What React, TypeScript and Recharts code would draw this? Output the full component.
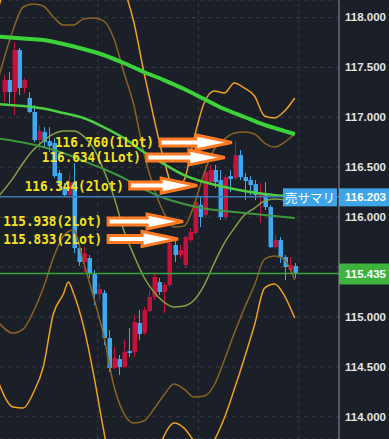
import React from 'react';
import { ComposedChart, Bar, Line, XAxis, YAxis, CartesianGrid, ReferenceLine } from 'recharts';

// candles (59 bars)
const open = [117.253, 117.373, 117.253, 117.674, 117.293, 117.193, 117.053, 116.772, 116.852, 116.762, 116.742, 116.442, 116.301, 116.221, 116.351, 115.690, 115.550, 115.590, 115.440, 115.229, 115.239, 114.788, 114.488, 114.578, 114.498, 114.658, 114.648, 114.939, 114.838, 115.059, 115.199, 115.349, 115.249, 115.319, 115.720, 115.620, 115.520, 115.770, 115.840, 116.121, 116.021, 116.351, 116.472, 116.371, 116.001, 116.411, 116.391, 116.622, 116.401, 116.371, 116.331, 116.211, 116.221, 116.101, 115.700, 115.770, 115.600, 115.470, 115.510];
const high = [117.424, 117.454, 117.754, 117.694, 117.393, 117.253, 117.123, 116.923, 116.902, 116.902, 116.792, 116.472, 116.341, 116.442, 116.542, 115.710, 115.700, 115.620, 115.470, 115.339, 115.269, 114.868, 114.698, 114.618, 114.768, 114.888, 115.019, 115.069, 115.099, 115.269, 115.440, 115.389, 115.349, 115.770, 115.770, 115.720, 115.820, 115.890, 116.191, 116.201, 116.522, 116.522, 116.522, 116.472, 116.421, 116.472, 116.762, 116.672, 116.442, 116.411, 116.371, 116.341, 116.351, 116.121, 115.820, 115.800, 115.620, 115.600, 115.540];
const low = [117.153, 117.143, 117.023, 117.223, 117.243, 117.043, 116.752, 116.672, 116.702, 116.652, 116.391, 116.271, 116.201, 116.201, 115.640, 115.510, 115.450, 115.389, 115.119, 115.169, 114.718, 114.448, 114.478, 114.418, 114.488, 114.598, 114.598, 114.768, 114.818, 115.049, 115.169, 115.219, 115.039, 115.299, 115.550, 115.590, 115.490, 115.750, 115.820, 115.900, 115.991, 116.321, 116.291, 115.971, 115.971, 116.251, 116.371, 116.371, 116.171, 116.221, 116.171, 115.941, 116.071, 115.690, 115.680, 115.540, 115.369, 115.440, 115.389];
const close = [117.373, 117.253, 117.674, 117.293, 117.373, 117.053, 116.772, 116.862, 116.752, 116.712, 116.411, 116.321, 116.221, 116.351, 115.690, 115.550, 115.640, 115.440, 115.229, 115.279, 114.788, 114.488, 114.588, 114.498, 114.648, 114.638, 114.949, 114.828, 115.069, 115.199, 115.400, 115.249, 115.319, 115.740, 115.620, 115.670, 115.800, 115.850, 116.151, 116.001, 116.452, 116.472, 116.351, 116.001, 116.401, 116.381, 116.622, 116.401, 116.361, 116.321, 116.221, 116.241, 116.101, 115.700, 115.770, 115.600, 115.500, 115.520, 115.435];

// moving averages, sampled every 4 bars
const maIdx = [-1, 4, 8, 12, 16, 20, 24, 28, 32, 36, 40, 44, 48, 52, 56, 58];
const maLong = [117.808, 117.789, 117.774, 117.734, 117.684, 117.624, 117.544, 117.454, 117.373, 117.283, 117.183, 117.083, 117.003, 116.923, 116.862, 116.832];
const maMid = [117.133, 117.113, 117.088, 117.043, 116.993, 116.902, 116.792, 116.652, 116.532, 116.421, 116.351, 116.301, 116.261, 116.231, 116.211, 116.201];
const maShort = [116.787, 116.747, 116.702, 116.642, 116.562, 116.482, 116.391, 116.281, 116.191, 116.131, 116.086, 116.061, 116.041, 116.021, 116.001, 115.991];

// bollinger bands, sampled every 2 bars
const bbIdx = [-1, 2, 4, 6, 8, 10, 12, 14, 16, 18, 20, 22, 24, 26, 28, 30, 32, 34, 36, 38, 40, 42, 44, 46, 48, 50, 52, 54, 56, 58];
const bbMid = [116.201, 116.391, 116.542, 116.672, 116.762, 116.832, 116.862, 116.862, 116.812, 116.692, 116.472, 116.211, 115.870, 115.620, 115.400, 115.249, 115.149, 115.099, 115.109, 115.169, 115.319, 115.540, 115.740, 115.890, 116.021, 116.091, 116.161, 116.181, 116.171, 116.131];
const bbUp1 = [117.373, 117.874, 118.105, 118.135, 118.115, 118.005, 117.925, 117.925, 117.985, 117.995, 117.965, 117.794, 117.454, 117.123, 116.642, 116.291, 116.041, 115.900, 115.910, 116.121, 116.442, 116.682, 116.782, 116.842, 116.852, 116.832, 116.742, 116.702, 116.752, 116.832];
const bbLow1 = [114.949, 114.838, 114.878, 115.049, 115.289, 115.590, 115.810, 115.870, 115.550, 115.199, 114.818, 114.318, 114.037, 113.937, 113.957, 114.077, 114.217, 114.327, 114.277, 114.197, 114.207, 114.318, 114.568, 114.838, 115.089, 115.319, 115.580, 115.610, 115.570, 115.369];
const bbUp2 = [118.069, 118.626, 118.876, 118.876, 118.806, 118.626, 118.476, 118.476, 118.576, 118.626, 118.676, 118.526, 118.295, 117.955, 117.454, 116.993, 116.572, 116.291, 116.371, 116.792, 117.143, 117.263, 117.243, 117.343, 117.293, 117.213, 117.013, 116.993, 117.063, 117.193];
const bbLow2Idx = [-1, 2, 4, 6, 8, 10, 12, 13, 14, 16, 18, 20, 22, 24, 26, 28, 30, 32, 34, 36, 38, 40, 42, 44, 46, 48, 50, 52, 54, 56, 58];
const bbLow2 = [114.357, 114.097, 114.087, 114.237, 114.498, 115.029, 115.229, 115.349, 115.239, 114.908, 114.428, 113.866, 113.365, 113.015, 112.965, 113.185, 113.516, 113.806, 113.937, 113.886, 113.756, 113.646, 113.766, 113.987, 114.277, 114.588, 114.919, 115.289, 115.329, 115.209, 114.989];

const yTicks = [114, 114.5, 115, 115.5, 116, 116.5, 117, 117.5, 118];
const gridX = [18.85, 38.85, 58.85];
const sellAvg = 116.203;
const lastPrice = 115.435;

const trades = [
  { label: '116.760(1Lot)', at: 116.748, from: 31.2, to: 45.5 },
  { label: '116.634(1Lot)', at: 116.598, from: 28.6, to: 44.1 },
  { label: '116.344(2lot)', at: 116.316, from: 25.2, to: 38.6 },
  { label: '115.938(2Lot)', at: 115.956, from: 20.9, to: 35.8 },
  { label: '115.833(2Lot)', at: 115.781, from: 20.9, to: 34.8 },
];

const candles = open.map((o, i) => ({ i, o, h: high[i], l: low[i], c: close[i] }));
const series = (idx: number[], vals: number[]) => idx.map((i, k) => ({ i, v: vals[k] }));

const BG = '#1b1f28';
const RED = '#c8103c';
const BLUE = '#3ca9f0';
const AXIS_FONT = "'Liberation Sans', Arial, sans-serif";

const Candle = (props: any) => {
  const { x, y, width, height, payload } = props;
  const { o, h, l, c } = payload;
  const top = Math.min(y, y + height);
  const bot = Math.max(y, y + height);
  const py = (p: number) => top + ((h - p) / (h - l || 1)) * (bot - top);
  const color = c >= o ? RED : BLUE;
  const bt = py(Math.max(o, c));
  const bb = py(Math.min(o, c));
  const cx = Math.round(x + width / 2);
  return (
    <g>
      <line x1={cx + 0.5} x2={cx + 0.5} y1={top} y2={bot} stroke={color} strokeWidth={1} />
      <rect x={cx - 1.5} y={bt} width={4.5} height={Math.max(1, bb - bt)} fill={color} />
    </g>
  );
};

// price tick; the one hidden under the last-price tag is skipped
const PriceTick = (props: any) => {
  const { x, y, payload } = props;
  if (Math.abs(payload.value - lastPrice) < 0.1) return null;
  return (
    <text x={x} y={y} dominantBaseline="central" fill="#e4e4e4" fontSize={11.5} fontWeight={700} fontFamily={AXIS_FONT}>
      {payload.value.toFixed(3)}
    </text>
  );
};

const TradeArrow = (props: any) => {
  const { x1, x2, y1, label } = props;
  const head = 36;
  const xh = x2 - head;
  const y = y1;
  const pts = [
    [x1, y - 3.5], [xh, y - 3.5], [xh, y - 7.5], [x2, y], [xh, y + 7.5], [xh, y + 3.5], [x1, y + 3.5],
  ].map((p) => p.join(',')).join(' ');
  return (
    <g>
      <text x={x1 - 105} y={y} dominantBaseline="central" textLength={99} lengthAdjust="spacingAndGlyphs"
        fill="#f4e21c" fontSize={14} fontWeight={700} fontFamily="'DejaVu Sans Mono', monospace">{label}</text>
      <polygon points={pts} fill="#ffffff" stroke="#ff7a22" strokeWidth={3} strokeLinejoin="miter" />
    </g>
  );
};

const PriceTag = (props: any) => {
  const { viewBox, value, color, h, sell } = props;
  const right = viewBox.x + viewBox.width;
  const y = viewBox.y + 0.5;
  return (
    <g>
      {sell && <rect x={right - 56} y={y - h / 2} width={54} height={h} fill={color} />}
      {sell && (
        <text x={right - 29} y={y} textAnchor="middle" dominantBaseline="central" fill="#ffffff" fontSize={12.5}
          fontFamily="'Noto Sans CJK JP', sans-serif">売サマリ</text>
      )}
      <rect x={right} y={y - h / 2} width={50} height={h} fill={color} />
      <text x={right + 6} y={y} dominantBaseline="central" fill="#ffffff" fontSize={11.5} fontWeight={700}
        fontFamily={AXIS_FONT}>{value.toFixed(3)}</text>
    </g>
  );
};

export default function App() {
  const lineProps = { dataKey: 'v', type: 'monotone' as const, dot: false, activeDot: false, isAnimationActive: false };
  return (
    <div style={{ position: 'absolute', left: 0, top: 0, width: 389, height: 439, background: BG }}>
      <ComposedChart width={389} height={439} data={candles} margin={{ top: 0, right: 0, bottom: 0, left: 0 }}>
        <CartesianGrid vertical={false} stroke="#363b47" strokeDasharray="4 4" />
        <XAxis dataKey="i" type="number" domain={[-0.6, 66.8]} allowDataOverflow hide />
        <YAxis
          orientation="right"
          width={50}
          domain={[113.777, 118.175]}
          allowDataOverflow
          ticks={yTicks}
          tick={<PriceTick />}
          tickLine={false}
          tickSize={4}
          tickMargin={2}
          axisLine={{ stroke: '#8d929c' }}
        />
        {gridX.map((x) => (
          <ReferenceLine key={x} x={x} stroke="#363b47" strokeDasharray="4 4" />
        ))}
        <Bar dataKey={(d: any) => [d.l, d.h]} shape={Candle} barSize={4} activeBar={false} isAnimationActive={false} />
        <Line {...lineProps} data={series(bbIdx, bbUp2)} stroke="#eea022" strokeWidth={1.5} />
        <Line {...lineProps} data={series(bbLow2Idx, bbLow2)} stroke="#eea022" strokeWidth={1.5} />
        <Line {...lineProps} data={series(bbIdx, bbUp1)} stroke="#8a6424" strokeWidth={1.5} />
        <Line {...lineProps} data={series(bbIdx, bbLow1)} stroke="#8a6424" strokeWidth={1.5} />
        <Line {...lineProps} data={series(bbIdx, bbMid)} stroke="#86a04a" strokeWidth={1.5} />
        <Line {...lineProps} data={series(maIdx, maShort)} stroke="#3e973e" strokeWidth={2} />
        <Line {...lineProps} data={series(maIdx, maMid)} stroke="#4ccd44" strokeWidth={2.5} />
        <Line {...lineProps} data={series(maIdx, maLong)} stroke="#3ad43a" strokeWidth={4} />
        <ReferenceLine y={sellAvg} stroke="#3b7cb8" strokeWidth={1.5}
          label={(p: any) => <PriceTag {...p} value={sellAvg} color="#3ea6e8" h={18} sell />} />
        <ReferenceLine y={lastPrice} stroke="#3aa83a" strokeWidth={1.5}
          label={(p: any) => <PriceTag {...p} value={lastPrice} color="#3db33d" h={21} />} />
        {trades.map((t) => (
          <ReferenceLine
            key={t.label}
            segment={[{ x: t.from, y: t.at }, { x: t.to, y: t.at }]}
            shape={(p: any) => <TradeArrow {...p} label={t.label} />}
          />
        ))}
      </ComposedChart>
    </div>
  );
}
